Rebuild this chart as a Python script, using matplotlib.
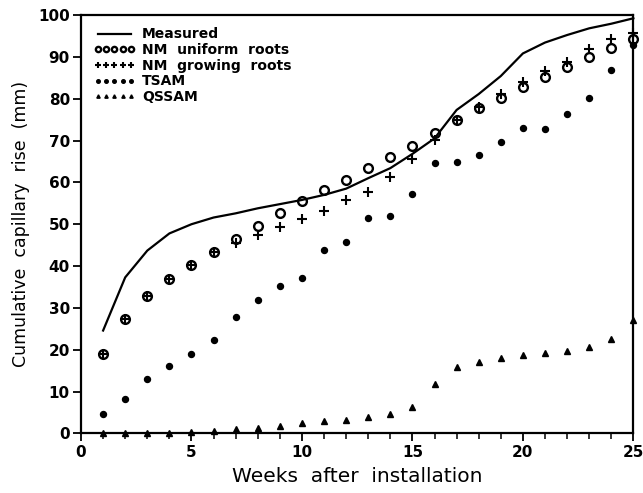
import matplotlib
matplotlib.use("Agg")
import matplotlib.pyplot as plt
from matplotlib.ticker import MultipleLocator

weeks = list(range(1, 26))
measured = [24.6, 37.3, 43.7, 47.8, 50.0, 51.6, 52.6, 53.8, 54.8, 55.8, 57.0, 58.5, 61.0,
            63.4, 66.8, 70.5, 77.3, 81.1, 85.4, 90.8, 93.4, 95.2, 96.8, 97.9, 99.2]
nm_uniform = [19.0, 27.3, 32.9, 36.9, 40.2, 43.3, 46.4, 49.6, 52.6, 55.6, 58.2, 60.6, 63.4,
              66.0, 68.8, 71.9, 74.9, 77.7, 80.2, 82.7, 85.1, 87.6, 89.9, 92.2, 94.2]
nm_growing = [19.0, 27.3, 32.9, 36.9, 40.2, 43.3, 45.4, 47.4, 49.3, 51.3, 53.2, 55.7, 57.6,
              61.4, 65.5, 70.1, 75.0, 78.0, 81.0, 84.0, 86.5, 88.8, 91.8, 94.2, 95.6]
tsam = [4.7, 8.3, 13.0, 16.1, 19.0, 22.3, 27.8, 31.9, 35.2, 37.2, 43.8, 45.8, 51.6,
        52.0, 57.2, 64.6, 64.9, 66.5, 69.7, 73.1, 72.7, 76.3, 80.2, 86.9, 92.8]
qssam = [0.1, 0.1, 0.2, 0.2, 0.3, 0.6, 1.0, 1.4, 1.9, 2.5, 2.9, 3.3, 3.9,
         4.7, 6.3, 11.9, 16.0, 17.0, 18.0, 18.8, 19.3, 19.8, 20.6, 22.5, 27.1]
labels = ["Measured", "NM  uniform  roots", "NM  growing  roots", "TSAM", "QSSAM"]

fig = plt.figure(figsize=(6.43, 4.93), dpi=100)
ax = fig.add_axes([0.126, 0.1207, 0.859, 0.849])

h1, = ax.plot(weeks, measured, color="black", lw=1.6, label=labels[0], clip_on=False)
h2, = ax.plot(weeks, nm_uniform, ls="none", marker="o", ms=6.3, mfc="none", mec="black",
              mew=1.7, label=labels[1], clip_on=False)
h3, = ax.plot(weeks, nm_growing, ls="none", marker="+", ms=7.5, mec="black", mew=1.5,
              label=labels[2], clip_on=False)
h4, = ax.plot(weeks, tsam, ls="none", marker="o", ms=4.3, mfc="black", mec="black",
              label=labels[3], clip_on=False)
h5, = ax.plot(weeks, qssam, ls="none", marker="^", ms=4, mfc="black", mec="black",
              label=labels[4], clip_on=False)

ax.set_xlim(0, 25)
ax.set_ylim(0, 100)
ax.xaxis.set_major_locator(MultipleLocator(5))
ax.xaxis.set_minor_locator(MultipleLocator(1))
ax.yaxis.set_major_locator(MultipleLocator(10))
ax.tick_params(axis="both", which="major", direction="out", length=6, width=1.3,
               labelsize=11, top=False, right=False, pad=2)
ax.tick_params(axis="x", which="minor", direction="out", length=4, width=1.1)
for lab in ax.get_xticklabels() + ax.get_yticklabels():
    lab.set_fontweight("bold")
for s in ax.spines.values():
    s.set_linewidth(1.6)

ax.set_xlabel("Weeks  after  installation", fontsize=14.5, labelpad=5)
ax.set_ylabel("Cumulative  capillary  rise  (mm)", fontsize=12.5, labelpad=6)

leg = ax.legend(handles=[h1, h2, h3, h4, h5], loc="upper left", bbox_to_anchor=(0.0, 1.0),
                frameon=False, numpoints=5, handlelength=3.0, handletextpad=0.5,
                labelspacing=0.12, borderpad=0.4, markerscale=0.6,
                prop={"size": 10, "weight": "bold"})

fig.savefig("out.png", dpi=100)
